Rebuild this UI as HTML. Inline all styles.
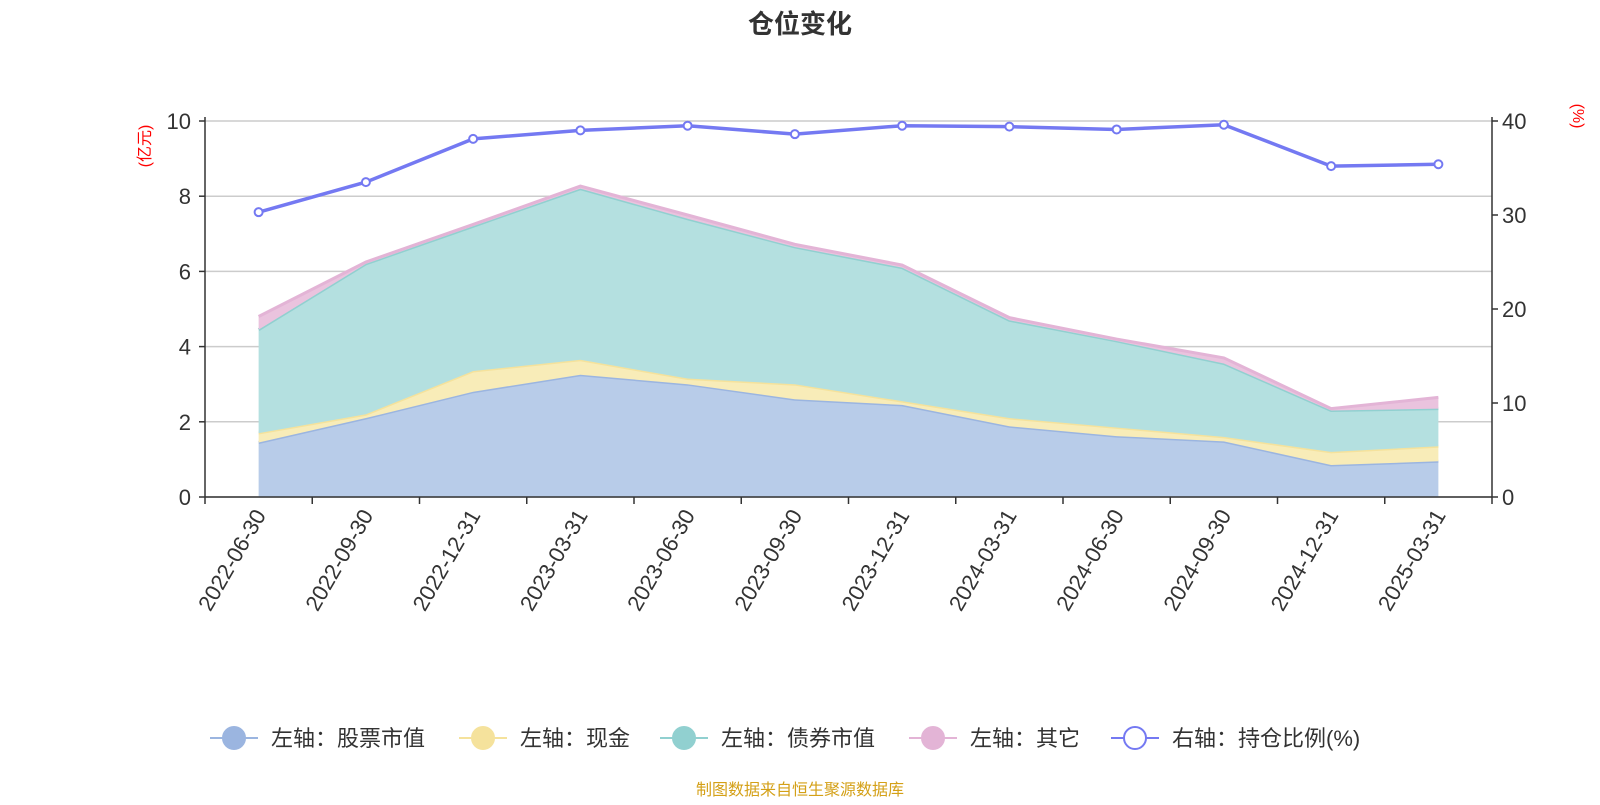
<!DOCTYPE html>
<html><head><meta charset="utf-8"><style>
body{margin:0;background:#fff;width:1600px;height:800px;overflow:hidden}
svg text{font-family:"Liberation Sans","Noto Sans CJK SC",sans-serif}
</style></head><body>
<svg id="c" width="1600" height="800"></svg>
<script>
const categories=["2022-06-30","2022-09-30","2022-12-31","2023-03-31","2023-06-30","2023-09-30","2023-12-31","2024-03-31","2024-06-30","2024-09-30","2024-12-31","2025-03-31"];
const stockValues=[1.45,2.1,2.8,3.25,3.0,2.6,2.45,1.88,1.62,1.48,0.85,0.95];
const cashValues=[0.25,0.1,0.55,0.4,0.15,0.4,0.1,0.22,0.23,0.12,0.35,0.4];
const bondValues=[2.75,4.0,3.85,4.55,4.25,3.65,3.55,2.6,2.3,1.95,1.1,1.0];
const otherValues=[0.35,0.05,0.05,0.07,0.1,0.07,0.07,0.07,0.05,0.15,0.05,0.3];
const ratioValues=[30.3,33.5,38.1,39.0,39.5,38.6,39.5,39.4,39.1,39.6,35.2,35.4];
const leftTicks=[0,2,4,6,8,10];
const rightTicks=[0,10,20,30,40];
const NS="http://www.w3.org/2000/svg",svg=document.getElementById('c');
const L=205,R=1492,T=121,B=497;
const bw=(R-L)/categories.length;
const x=i=>L+bw*(i+0.5);
const yL=v=>B-(v/10)*(B-T);
const yR=v=>B-(v/40)*(B-T);
function el(t,a,p){const e=document.createElementNS(NS,t);for(const k in a)e.setAttribute(k,a[k]);(p||svg).appendChild(e);return e;}
let t=el('text',{x:800,y:33,'text-anchor':'middle','font-size':26,'font-weight':'bold',fill:'#333'});t.textContent='仓位变化';


leftTicks.forEach(v=>{
 const g=el('line',{x1:L,x2:R,y1:yL(v),y2:yL(v),stroke:'#ccc','stroke-width':1.5});
 
 
 el('line',{x1:L-6,x2:L,y1:yL(v),y2:yL(v),stroke:'#333','stroke-width':1.5});
 const tx=el('text',{x:L-14,y:yL(v)+8,'text-anchor':'end','font-size':22,fill:'#333'});tx.textContent=v;
 
 
});
rightTicks.forEach(v=>{
 el('line',{x1:R,x2:R+6,y1:yR(v),y2:yR(v),stroke:'#333','stroke-width':1.5});
 const tx=el('text',{x:R+10,y:yR(v)+8,'font-size':22,fill:'#333'});tx.textContent=v;
 
 
});
let a=el('text',{transform:`translate(150,146) rotate(-90)`,'text-anchor':'middle','font-size':16,fill:'red'});a.textContent='(亿元)';


a=el('text',{transform:`translate(1573,116) rotate(90)`,'text-anchor':'middle','font-size':16,fill:'red'});a.textContent='(%)';


const series=[[stockValues,'#b8cce9','#9bb5e0','stock'],[cashValues,'#f8ecb8','#f5e29c','cash'],[bondValues,'#b4e0e0','#91d0d0','bond'],[otherValues,'#eac3de','#e3b4d6','other']];
let base=categories.map(()=>0);
series.forEach(([vals,fill,stroke,name])=>{
 const top=base.map((b,i)=>b+vals[i]);
 let d='M'+top.map((v,i)=>x(i)+','+yL(v)).join('L');
 for(let i=categories.length-1;i>=0;i--)d+='L'+x(i)+','+yL(base[i]);
 const p=el('path',{d:d+'Z',fill:fill});
 
 
 const ln=el('polyline',{points:top.map((v,i)=>x(i)+','+yL(v)).join(' '),fill:'none',stroke:stroke,'stroke-width':3});
 
 
 base=top;
});
el('line',{x1:L,x2:L,y1:T-4,y2:B,stroke:'#333','stroke-width':1.5});
el('line',{x1:R,x2:R,y1:T-4,y2:B,stroke:'#333','stroke-width':1.5});
el('line',{x1:L,x2:R,y1:B,y2:B,stroke:'#333','stroke-width':1.5});
for(let i=0;i<=categories.length;i++)el('line',{x1:L+bw*i,x2:L+bw*i,y1:B,y2:B+7,stroke:'#333','stroke-width':1.5});
categories.forEach((c,i)=>{
 const tx=el('text',{transform:`translate(${x(i)+8},${B+18}) rotate(-60)`,'text-anchor':'end','font-size':22,fill:'#333'});tx.textContent=c;
 
 
});
const rl=el('polyline',{points:ratioValues.map((v,i)=>x(i)+','+yR(v)).join(' '),fill:'none',stroke:'#7479f2','stroke-width':3.5});


ratioValues.forEach((v,i)=>{
 const c=el('circle',{cx:x(i),cy:yR(v),r:4,fill:'#fff',stroke:'#7479f2','stroke-width':2});
 
 
});
const legend=[[234,'#9bb5e0','左轴：股票市值',true],[483,'#f5e29c','左轴：现金',true],[684,'#91d0d0','左轴：债券市值',true],[933,'#e3b4d6','左轴：其它',true],[1135,'#7479f2','右轴：持仓比例(%)',false]];
legend.forEach(([cx,col,label,filled])=>{
 const g=el('g',{});
 
 
 el('line',{x1:cx-24,x2:cx+24,y1:738,y2:738,stroke:col,'stroke-width':2},g);
 el('circle',{cx:cx,cy:738,r:11,fill:filled?col:'#fff',stroke:col,'stroke-width':2},g);
 const tx=el('text',{x:cx+37,y:746,'font-size':22,fill:'#333'},g);tx.textContent=label;
});
const f=el('text',{x:800,y:795,'text-anchor':'middle','font-size':16,fill:'#d4a017'});f.textContent='制图数据来自恒生聚源数据库';


</script>
</body></html>
